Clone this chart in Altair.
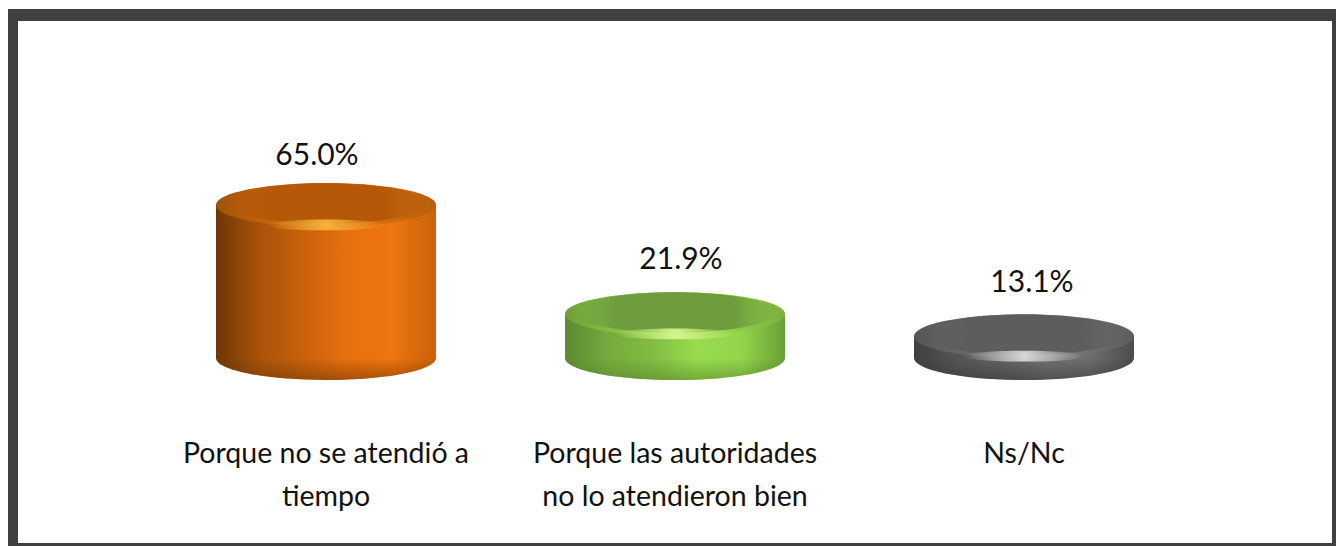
import altair as alt
import pandas as pd

categories = ["Porque no se atendió a\ntiempo", "Porque las autoridades\nno lo atendieron bien", "Ns/Nc"]
values = [65.0, 21.9, 13.1]
labels = ["65.0%", "21.9%", "13.1%"]

# styling, per cylinder
side_stops = [
    ["#6e3704", "#a9530a", "#c9620c", "#e8700e", "#ee750f", "#c9620c"],
    ["#5c8a30", "#76ab3c", "#82bd42", "#97dc4e", "#93d64c", "#69a035"],
    ["#3f3f3f", "#555555", "#626262", "#727272", "#6e6e6e", "#4c4c4c"],
]
rim_stops = [
    ["#a05208", "#c0620c", "#cc680e", "#d8700f", "#d06a0e", "#b85f0c"],
    ["#6f9f38", "#85bd44", "#8cc84a", "#9ad850", "#90cc48", "#7bb03c"],
    ["#555555", "#666666", "#6c6c6c", "#7a7a7a", "#707070", "#5c5c5c"],
]
disc = ["#b55908", "#6f9d3e", "#5d5d5d"]
shine = ["#f7b23a", "#d5f58c", "#d8d8d8"]
shade = ["#6b3503", "#55802a", "#333333"]
label_dx = [-9, 6, 8]
label_dy = [-49, -54, -53]
base_value = 4.5

df = pd.DataFrame({"cat": categories, "value": values, "label": labels, "base": base_value})

x_scale = alt.Scale(type="point", domain=categories, range=[318, 1016], padding=0)
y_scale = alt.Scale(domain=[-69.8, 142.8], range=[538, 0], nice=False, zero=False)
ELLIPSE = "M-1,0A1,0.2 0 1,1 1,0A1,0.2 0 1,1 -1,0Z"
THIN = "M-1,0A1,0.09 0 1,1 1,0A1,0.09 0 1,1 -1,0Z"
W = 220


def grad_h(cols):
    n = len(cols) - 1
    return {"gradient": "linear", "x1": 0, "x2": 1, "y1": 0, "y2": 0,
            "stops": [{"offset": i / n, "color": c} for i, c in enumerate(cols)]}


def grad_v(stops):
    return {"gradient": "linear", "x1": 0, "x2": 0, "y1": 0, "y2": 1,
            "stops": [{"offset": o, "color": c} for o, c in stops]}


def glow(col, inner=0.0):
    return {"gradient": "radial", "x1": 0.5, "y1": 0.5, "r1": 0, "x2": 0.5, "y2": 0.5, "r2": 0.5,
            "stops": [{"offset": inner, "color": col}, {"offset": 1, "color": col + "00"}]}


X = alt.X("cat:N", scale=x_scale, axis=None, sort=None)
Yv = alt.Y("value:Q", scale=y_scale, axis=None)
Yb = alt.Y("base:Q", scale=y_scale, axis=None)

layers = []
for i, cat in enumerate(categories):
    d = df[df["cat"] == cat]
    base = alt.Chart(d)
    side = grad_h(side_stops[i])
    # rounded foot
    layers.append(base.mark_point(shape=ELLIPSE, size=W * W, filled=True, opacity=1, fill=side).encode(x=X, y=Yb))
    layers.append(base.mark_point(shape=ELLIPSE, size=W * W, filled=True, opacity=1,
                                  fill=grad_v([(0.5, shade[i] + "00"), (1, shade[i] + "88")])).encode(x=X, y=Yb))
    # body
    layers.append(base.mark_bar(size=W, fill=side).encode(x=X, y=Yv, y2=alt.Y2("base:Q")))
    # top
    layers.append(base.mark_point(shape=ELLIPSE, size=W * W, filled=True, opacity=1, fill=grad_h(rim_stops[i])).encode(x=X, y=Yv))
    layers.append(base.mark_point(shape=ELLIPSE, size=(W * 0.92) ** 2, filled=True, opacity=1,
                                  fill=glow(disc[i], 0.6), yOffset=-1.5).encode(x=X, y=Yv))
    # highlight on the front rim
    layers.append(base.mark_point(shape=THIN, size=120 ** 2, filled=True, opacity=1, fill=glow(shine[i]), yOffset=20).encode(x=X, y=Yv))
    # value label
    layers.append(base.mark_text(font="Lato", fontSize=30, color="#111111", dx=label_dx[i], dy=label_dy[i]).encode(x=X, y=Yv, text="label:N"))
    # category label
    layers.append(base.mark_text(font="Lato", fontSize=28.5, color="#111111", baseline="top", lineHeight=43, lineBreak="\n").encode(
        x=X, y=alt.value(432), text="cat:N"))

# outer frame
frame_color = "#404040"
frame_df = pd.DataFrame({"f": [0]})
frame = [
    alt.Chart(frame_df).mark_rect(color=frame_color).encode(x=alt.value(a), x2=alt.value(b), y=alt.value(c), y2=alt.value(e))
    for a, b, c, e in [(0, 10, 1, 538), (0, 1328, 1, 13), (1324, 1328, 1, 538), (0, 1328, 535, 538)]
]

chart = alt.layer(*layers, *frame).resolve_scale(x="shared", y="shared").properties(
    width=1328, height=538, padding=0, autosize=alt.AutoSizeParams(type="none"), background="white"
).configure_view(stroke=None)

chart.save("out.html", embed_options={"renderer": "svg", "actions": False})
